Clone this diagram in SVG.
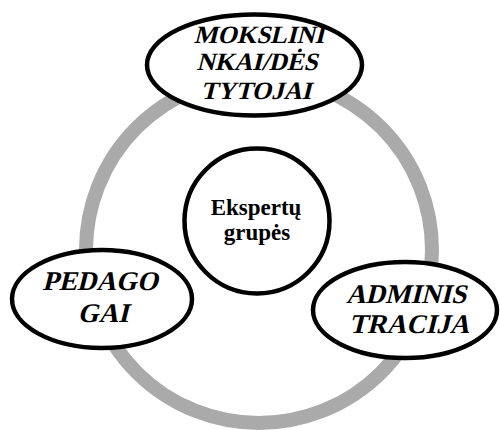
<svg xmlns="http://www.w3.org/2000/svg" width="500" height="430" viewBox="0 0 500 430">
<style>
.ring{fill:none;stroke:#aaaaaa;stroke-width:14}
.node{fill:#ffffff;stroke:#000000;stroke-width:4.5}
.lbl{font-family:"Liberation Serif","Times New Roman",serif;font-weight:bold;font-size:27px;fill:#000;text-anchor:middle}
.ctr{font-family:"Liberation Serif","Times New Roman",serif;font-weight:bold;font-size:23px;fill:#000;text-anchor:middle}
</style>
<rect width="500" height="430" fill="#ffffff"/>
<g id="connectors">
<circle class="ring" cx="259" cy="250" r="173"/>
</g>
<g id="center">
<circle class="node" cx="257" cy="221" r="72.5"/>
<text class="ctr" x="256" y="215">Ekspertų</text>
<text class="ctr" x="257" y="240">grupės</text>
</g>
<g id="mokslininkai">
<ellipse class="node" cx="254.5" cy="65" rx="107.5" ry="50.5"/>
<text class="lbl" transform="translate(259,43) skewX(-14)" style="font-size:25px">MOKSLINI</text>
<text class="lbl" transform="translate(257,70) skewX(-14)" style="font-size:25px">NKAI/DĖS</text>
<text class="lbl" transform="translate(256,99) skewX(-14)" style="font-size:25px">TYTOJAI</text>
</g>
<g id="pedagogai">
<ellipse class="node" cx="102" cy="299" rx="90" ry="49"/>
<text class="lbl" transform="translate(100,290) skewX(-14)">PEDAGO</text>
<text class="lbl" transform="translate(103,322) skewX(-14)">GAI</text>
</g>
<g id="administracija">
<ellipse class="node" cx="405" cy="310" rx="92" ry="48"/>
<text class="lbl" transform="translate(406,303) skewX(-14)">ADMINIS</text>
<text class="lbl" transform="translate(409,333) skewX(-14)">TRACIJA</text>
</g>
</svg>
